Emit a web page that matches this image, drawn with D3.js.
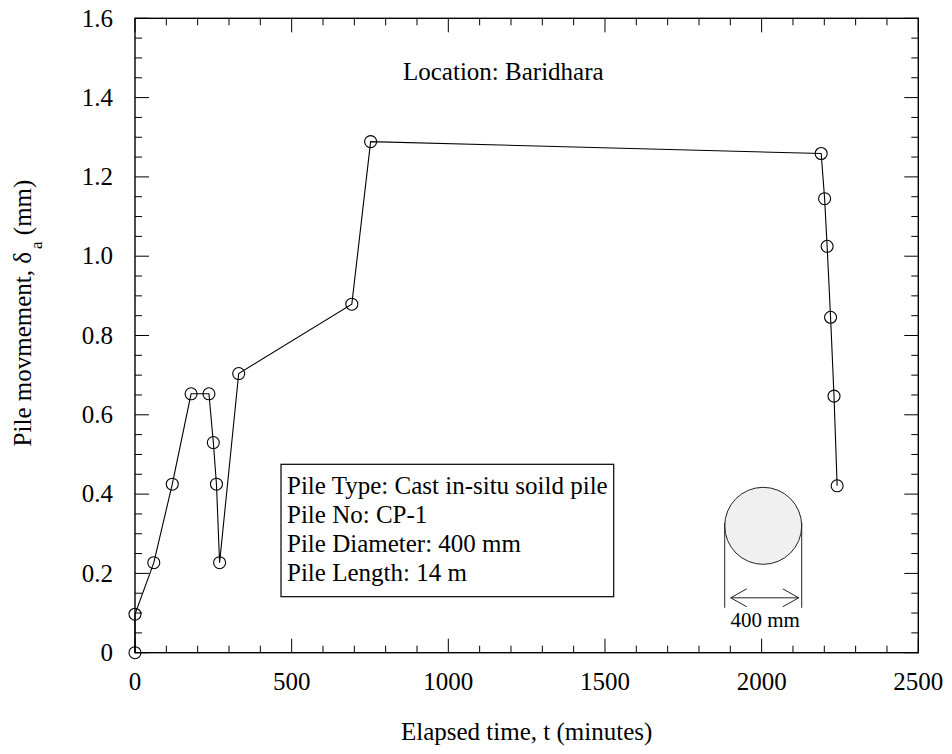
<!DOCTYPE html>
<html>
<head>
<meta charset="utf-8">
<script src="https://cdn.jsdelivr.net/npm/d3@7"></script>
<style>
  html, body { margin: 0; padding: 0; background: #fff; }
  svg text { font-family: "Liberation Serif", "Times New Roman", serif; fill: #000; }
</style>
</head>
<body>
<svg id="chart" width="952" height="754" font-family="Liberation Serif, Times New Roman, serif"></svg>
<script>
// Elapsed time (minutes) and measured pile movement (mm)
const elapsedTime = [0, 0, 60, 119, 179, 236, 250, 260, 270, 331, 692, 752, 2190, 2201, 2209, 2220, 2231, 2241];
const pileMovement = [0, 0.097, 0.227, 0.425, 0.653, 0.653, 0.53, 0.425, 0.227, 0.704, 0.879, 1.289, 1.259, 1.145, 1.025, 0.846, 0.647, 0.421];

const xTicks = [0, 500, 1000, 1500, 2000, 2500];
const yTicks = [0, 0.2, 0.4, 0.6, 0.8, 1.0, 1.2, 1.4, 1.6];
const xTickLabels = ["0", "500", "1000", "1500", "2000", "2500"];
const yTickLabels = ["0", "0.2", "0.4", "0.6", "0.8", "1.0", "1.2", "1.4", "1.6"];

const locationText = "Location: Baridhara";
const infoLines = [
  "Pile Type: Cast in-situ soild pile",
  "Pile No: CP-1",
  "Pile Diameter: 400 mm",
  "Pile Length: 14 m"
];
const sectionLabel = "400 mm";

const svg = d3.select("#chart");
const margin = { top: 18.3, left: 135, right: 952 - 918.3, bottom: 754 - 652.7 };
const W = 952 - margin.left - margin.right;
const H = 754 - margin.top - margin.bottom;

const x = d3.scaleLinear().domain([0, 2500]).range([0, W]);
const y = d3.scaleLinear().domain([0, 1.6]).range([H, 0]);

const g = svg.append("g").attr("transform", `translate(${margin.left},${margin.top})`);

// Inward ticks on all four sides: major + minor
const xMinor = d3.range(0, 2501, 100).filter(v => v % 500 !== 0);
const yMinor = d3.range(0, 33).map(i => +(i * 0.05).toFixed(2)).filter(v => Math.abs(v * 5 - Math.round(v * 5)) > 1e-6);
const MAJ = 14, MIN = 7;
const tickG = g.append("g").attr("stroke", "#000").attr("stroke-width", 1);

function vTicks(vals, len, edgeY, dir) {
  tickG.selectAll(null).data(vals).enter().append("line")
    .attr("x1", d => x(d)).attr("x2", d => x(d))
    .attr("y1", edgeY).attr("y2", edgeY + dir * len);
}
function hTicks(vals, len, edgeX, dir) {
  tickG.selectAll(null).data(vals).enter().append("line")
    .attr("y1", d => y(d)).attr("y2", d => y(d))
    .attr("x1", edgeX).attr("x2", edgeX + dir * len);
}
vTicks(xTicks, MAJ, H, -1); vTicks(xMinor, MIN, H, -1);
vTicks(xTicks, MAJ, 0, 1);  vTicks(xMinor, MIN, 0, 1);
hTicks(yTicks, MAJ, 0, 1);  hTicks(yMinor, MIN, 0, 1);
hTicks(yTicks, MAJ, W, -1); hTicks(yMinor, MIN, W, -1);

// Frame
g.append("rect").attr("x", 0).attr("y", 0).attr("width", W).attr("height", H)
  .attr("fill", "none").attr("stroke", "#000").attr("stroke-width", 1.4);

// Tick labels
g.append("g").selectAll("text").data(xTicks).enter().append("text")
  .attr("x", d => x(d)).attr("y", H + 37)
  .attr("text-anchor", "middle").attr("font-size", 25)
  .text((d, i) => xTickLabels[i]);
g.append("g").selectAll("text").data(yTicks).enter().append("text")
  .attr("x", -22).attr("y", d => y(d)).attr("dy", "0.33em")
  .attr("text-anchor", "end").attr("font-size", 25)
  .text((d, i) => yTickLabels[i]);

// Axis titles
svg.append("text")
  .attr("x", margin.left + W / 2).attr("y", 740)
  .attr("text-anchor", "middle").attr("font-size", 25)
  .text("Elapsed time, t (minutes)");

const yTitle = svg.append("text")
  .attr("transform", `translate(31,313) rotate(-90)`)
  .attr("text-anchor", "middle").attr("font-size", 25);
yTitle.append("tspan").text("Pile movmement, δ");
yTitle.append("tspan").attr("font-size", 17).attr("dx", 3).attr("dy", 11).text("a");
yTitle.append("tspan").attr("dy", -11).text(" (mm)");

// Data line and markers
const pts = elapsedTime.map((t, i) => [t, pileMovement[i]]);
g.append("path").datum(pts)
  .attr("fill", "none").attr("stroke", "#000").attr("stroke-width", 1.1)
  .attr("d", d3.line().x(d => x(d[0])).y(d => y(d[1])));
g.append("g").selectAll("circle").data(pts).enter().append("circle")
  .attr("cx", d => x(d[0])).attr("cy", d => y(d[1])).attr("r", 6)
  .attr("fill", "none").attr("stroke", "#000").attr("stroke-width", 1.1);

// Location label
g.append("text").attr("x", 403 - margin.left).attr("y", 80 - margin.top)
  .attr("font-size", 25).text(locationText);

// Pile information box
const info = g.append("g");
const infoText = info.append("text").attr("font-size", 25);
infoLines.forEach((line, i) => {
  infoText.append("tspan").attr("x", 287 - margin.left).attr("y", 494.3 - margin.top + i * 29).text(line);
});
const bb = infoText.node().getBBox();
info.insert("rect", "text")
  .attr("x", 281 - margin.left).attr("y", 464.3 - margin.top)
  .attr("width", bb.x + bb.width + 6 - (281 - margin.left))
  .attr("height", 596.7 - 464.3)
  .attr("fill", "#fff").attr("stroke", "#000").attr("stroke-width", 1.2);

// Pile cross-section sketch with diameter dimension
const cx = x(2005), cy = y(0.32), r = 38.5;
const sec = g.append("g").attr("stroke", "#222").attr("stroke-width", 1);
sec.append("circle").attr("cx", cx).attr("cy", cy).attr("r", r).attr("fill", "#f0f0f0");
sec.append("line").attr("x1", cx - r).attr("x2", cx - r).attr("y1", cy - 3).attr("y2", cy + 82);
sec.append("line").attr("x1", cx + r).attr("x2", cx + r).attr("y1", cy - 3).attr("y2", cy + 82);
const ay = cy + 72;
sec.append("line").attr("x1", cx - r + 6).attr("x2", cx + r - 3).attr("y1", ay).attr("y2", ay);
sec.append("path").attr("fill", "none")
  .attr("d", `M${cx - r + 22},${ay - 9} L${cx - r + 6},${ay} L${cx - r + 22},${ay + 9}`);
sec.append("path").attr("fill", "none")
  .attr("d", `M${cx + r - 19},${ay - 9} L${cx + r - 3},${ay} L${cx + r - 19},${ay + 9}`);
g.append("text").attr("x", cx + 2).attr("y", cy + 101)
  .attr("text-anchor", "middle").attr("font-size", 21).text(sectionLabel);
</script>
</body>
</html>
